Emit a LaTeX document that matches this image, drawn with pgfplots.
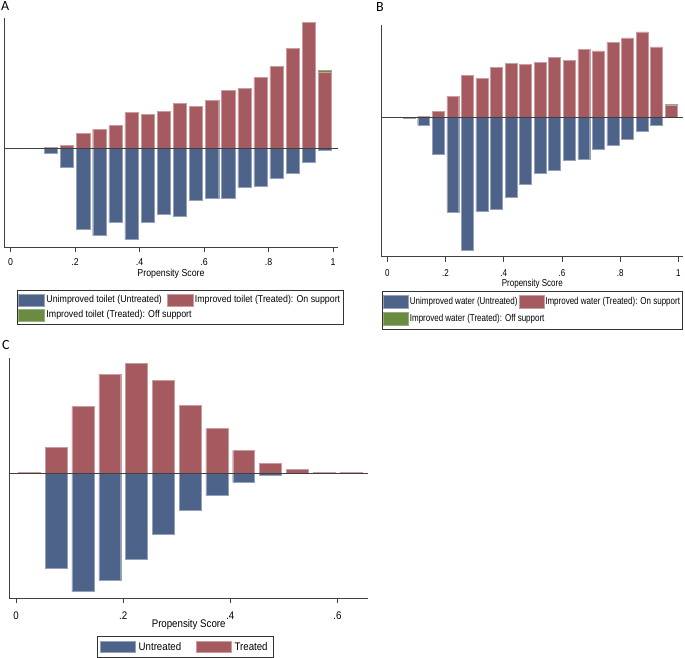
\documentclass[border=0pt]{standalone}
\usepackage{fontspec}
\setmainfont{Liberation Sans}[FakeStretch=0.88]
\newfontfamily\narrowfont{Liberation Sans}[FakeStretch=0.8]
\newfontfamily\panelfont{Carlito}
\usepackage{pgfplots}
\pgfplotsset{compat=1.18}
\definecolor{cblue}{RGB}{78,99,138}
\definecolor{cred}{RGB}{165,90,96}
\definecolor{cgreen}{RGB}{107,138,66}
\pgfplotsset{
  swatch/.style 2 args={legend image code/.code={\draw[##1] (0pt,-#2) rectangle (#1,#2);}},
  bblue/.style={ybar, bar width=0.041, bar shift=0pt, fill=cblue, draw=cblue!60!white, line width=0.4pt},
  bred/.style={ybar, bar width=0.041, bar shift=0pt, fill=cred, draw=cred!60!white, line width=0.4pt},
  bgreen/.style={ybar, bar width=0.041, bar shift=0pt, fill=cgreen, draw=cgreen!70!white, line width=0.4pt},
  psbase/.style={
    scale only axis,
    axis x line*=bottom, axis y line*=left,
    ytick=\empty,
    tick align=outside,
    major tick length=5pt,
    axis line style={black!75, line width=0.7pt},
    every tick/.style={black!75, line width=0.7pt},
    xlabel={Propensity Score},
    legend cell align=left,
  },
}
\begin{document}
\begin{tikzpicture}
\useasboundingbox (0,0) rectangle (685pt,-658pt);
% ---------------- Panel A
\begin{axis}[psbase,
  at={(4pt,-247pt)}, anchor=south west, width=334pt, height=229pt,
  xmin=-0.0207, xmax=1.0155, ymin=-297, ymax=390,
  xtick={0,0.2,0.4,0.6,0.8,1}, xticklabels={0,.2,.4,.6,.8,1},
  ticklabel style={font=\fontsize{10}{11}\selectfont, yshift=-3pt},
  xlabel style={font=\fontsize{10}{11}\selectfont, yshift=3pt},
  legend columns=2,
  legend style={at={(0.0389,-0.1878)}, anchor=north west, draw=black!80, line width=0.6pt,
    font=\fontsize{10}{11}\selectfont, inner xsep=1pt, inner ysep=3.5pt, row sep=2.5pt,
    nodes={inner sep=1.8pt},
    /tikz/every even column/.append style={column sep=3pt}},
]
\addplot[bblue, swatch={26pt}{6pt}] coordinates {(0.075,-1) (0.125,-16) (0.175,-59) (0.225,-243) (0.275,-263) (0.325,-224) (0.375,-275) (0.425,-223) (0.475,-199) (0.525,-205) (0.575,-156) (0.625,-152) (0.675,-152) (0.725,-119) (0.775,-114) (0.825,-92) (0.875,-75) (0.925,-44) (0.975,-8)};
\addlegendentry{Unimproved toilet (Untreated)}
\addplot[bgreen, forget plot] coordinates {(0.975,233)};
\addplot[bred, swatch={26pt}{6pt}] coordinates {(0.125,2) (0.175,8) (0.225,44) (0.275,57) (0.325,67) (0.375,107) (0.425,102) (0.475,111) (0.525,134) (0.575,125) (0.625,142) (0.675,173) (0.725,179) (0.775,212) (0.825,244) (0.875,300) (0.925,378) (0.975,228)};
\addlegendentry{Improved toilet (Treated): On support}
\addlegendimage{fill=cgreen, draw=cgreen!70!white, line width=0.4pt, swatch={26pt}{6pt}}
\addlegendentry{\makebox[0pt][l]{Improved toilet (Treated): Off support}}
\addplot[black!75, line width=0.7pt, forget plot] coordinates {(-0.0207,0) (1.0155,0)};
\end{axis}
% ---------------- Panel B
\begin{axis}[psbase,
  at={(381.7pt,-256.7pt)}, anchor=south west, width=301.3pt, height=231.7pt,
  xmin=-0.0192, xmax=1.016, ymin=-418, ymax=277,
  xtick={0,0.2,0.4,0.6,0.8,1}, xticklabels={0,.2,.4,.6,.8,1},
  ticklabel style={font=\narrowfont\fontsize{10}{11}\selectfont, yshift=-4pt},
  xlabel style={font=\narrowfont\fontsize{10}{11}\selectfont, yshift=4pt},
  legend columns=2,
  legend style={at={(0.001,-0.148)}, anchor=north west, draw=black!80, line width=0.6pt,
    font=\narrowfont\fontsize{10}{11}\selectfont, inner xsep=1pt, inner ysep=4pt, row sep=3pt,
    nodes={inner sep=1.2pt},
    /tikz/every even column/.append style={column sep=0pt}},
]
\addplot[bblue, swatch={25pt}{6.5pt}] coordinates {(0.075,-2) (0.125,-24) (0.175,-112) (0.225,-284) (0.275,-398) (0.325,-282) (0.375,-276) (0.425,-240) (0.475,-200) (0.525,-168) (0.575,-158) (0.625,-129) (0.675,-126) (0.725,-96) (0.775,-84) (0.825,-65) (0.875,-43) (0.925,-23)};
\addlegendentry{Unimproved water (Untreated)}
\addplot[bgreen, forget plot] coordinates {(0.975,40)};
\addplot[bred, swatch={25pt}{6.5pt}] coordinates {(0.125,3) (0.175,18) (0.225,62) (0.275,125) (0.325,117) (0.375,150) (0.425,162) (0.475,158) (0.525,166) (0.575,179) (0.625,171) (0.675,204) (0.725,199) (0.775,225) (0.825,238) (0.875,256) (0.925,211) (0.975,37)};
\addlegendentry{Improved water (Treated): On support}
\addlegendimage{fill=cgreen, draw=cgreen!70!white, line width=0.4pt, swatch={25pt}{6.5pt}}
\addlegendentry{\makebox[0pt][l]{Improved water (Treated): Off support}}
\addplot[black!75, line width=0.7pt, forget plot] coordinates {(-0.0192,0) (1.016,0)};
\end{axis}
% ---------------- Panel C
\begin{axis}[psbase,
  at={(9.3pt,-598.3pt)}, anchor=south west, width=358.7pt, height=240.6pt,
  xmin=-0.0125, xmax=0.657, ymin=-375, ymax=347,
  xtick={0,0.2,0.4,0.6}, xticklabels={0,.2,.4,.6},
  ticklabel style={font=\fontsize{11}{12}\selectfont, yshift=-5pt},
  xlabel style={font=\fontsize{11}{12}\selectfont, yshift=7pt},
  legend columns=2,
  legend style={at={(0.2445,-0.1567)}, anchor=north west, draw=black!80, line width=0.6pt,
    font=\fontsize{11}{12}\selectfont, inner xsep=3pt, inner ysep=3pt,
    nodes={inner sep=3pt},
    /tikz/every even column/.append style={column sep=12pt}},
]
\addplot[bblue, swatch={35pt}{5.5pt}] coordinates {(0.075,-286) (0.125,-355) (0.175,-322) (0.225,-258) (0.275,-182) (0.325,-111) (0.375,-67) (0.425,-27) (0.475,-7)};
\addlegendentry{Untreated}
\addplot[bred, swatch={35pt}{5.5pt}] coordinates {(0.025,3) (0.075,79) (0.125,201) (0.175,298) (0.225,331) (0.275,279) (0.325,205) (0.375,135) (0.425,68) (0.475,29) (0.525,11) (0.575,3) (0.625,3)};
\addlegendentry{Treated}
\addplot[black!75, line width=0.7pt, forget plot] coordinates {(-0.0125,0) (0.657,0)};
\end{axis}
% panel letters
\node[anchor=north west, inner sep=0pt, font=\panelfont\fontsize{14}{14}\selectfont] at (1pt,-1pt) {A};
\node[anchor=north west, inner sep=0pt, font=\panelfont\fontsize{14}{14}\selectfont] at (376pt,-2pt) {B};
\node[anchor=north west, inner sep=0pt, font=\panelfont\fontsize{14}{14}\selectfont] at (2pt,-340pt) {C};
\end{tikzpicture}
\end{document}
